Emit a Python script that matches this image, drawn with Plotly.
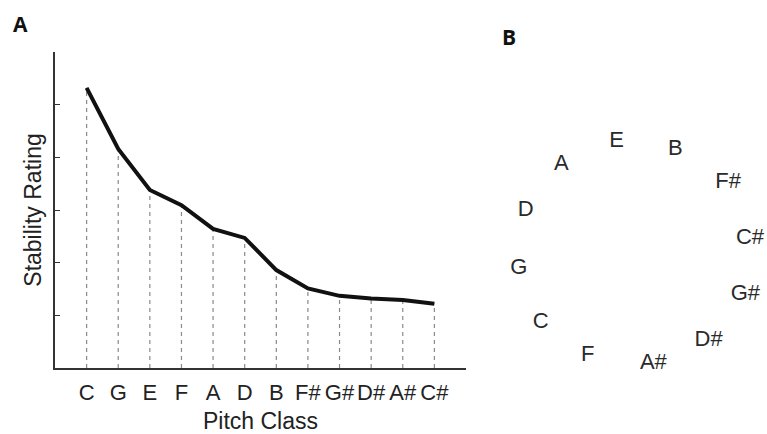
import plotly.graph_objects as go

# Panel A data
pitch_classes = ["C", "G", "E", "F", "A", "D", "B", "F#", "G#", "D#", "A#", "C#"]
stability = [5.32, 4.16, 3.38, 3.09, 2.64, 2.47, 1.86, 1.51, 1.37, 1.32, 1.29, 1.22]
y_ticks = [1, 2, 3, 4, 5, 6]

# Panel B data (2-D configuration)
mds_labels = ["E", "B", "A", "F#", "D", "C#", "G", "G#", "C", "D#", "F", "A#"]
mds_dim1 = [-0.16, 0.35, -0.64, 0.81, -0.95, 1.0, -1.01, 0.96, -0.82, 0.64, -0.41, 0.16]
mds_dim2 = [0.96, 0.89, 0.76, 0.60, 0.36, 0.12, -0.14, -0.37, -0.61, -0.77, -0.90, -0.97]

W, H = 767, 434
ML, MR, MT, MB = 55, 0, 52, 434 - 368
PW = W - ML - MR
PH = H - MT - MB


def px_to_paper(px, py):
    return (px - ML) / PW, 1 - (py - MT) / PH


idx = list(range(len(pitch_classes)))

fig = go.Figure()

# dashed drop lines
dx, dy = [], []
for i, v in zip(idx, stability):
    dx += [i, i, None]
    dy += [0, v, None]
fig.add_trace(go.Scatter(x=dx, y=dy, mode="lines",
                         line=dict(color="#8a8a8a", width=1.2, dash="4px,4px"),
                         hoverinfo="skip", showlegend=False, cliponaxis=False))

fig.add_trace(go.Scatter(x=idx, y=stability, mode="lines",
                         line=dict(color="#111111", width=4),
                         showlegend=False, cliponaxis=False))

fig.add_trace(go.Scatter(x=mds_dim1, y=mds_dim2, mode="text", text=mds_labels,
                         textfont=dict(family="Liberation Sans Narrow, Arial Narrow, Liberation Sans, Arial",
                                       size=22, color="#2a2a2a"),
                         textposition="middle center",
                         xaxis="x2", yaxis="y2", showlegend=False, cliponaxis=False))

ax, ay = px_to_paper(20, 24)
bx, by = px_to_paper(509, 37)
x_end = (466 - ML) / PW
x2_start = (480 - ML) / PW

fig.update_layout(
    width=W, height=H,
    margin=dict(l=ML, r=MR, t=MT, b=MB, autoexpand=False),
    paper_bgcolor="white", plot_bgcolor="white",
    font=dict(family="Liberation Sans, Arial, sans-serif", color="#222222"),
    xaxis=dict(domain=[0, x_end], range=[-1, 12], automargin=False,
               tickmode="array", tickvals=idx, ticktext=pitch_classes, tickangle=0,
               ticklabelstandoff=4,
               tickfont=dict(size=22, color="#222222"), ticks="", showgrid=False,
               zeroline=False, showline=True, linecolor="#333333", linewidth=1.5,
               title=dict(text="Pitch Class", font=dict(size=23, color="#222222"), standoff=10)),
    yaxis=dict(range=[0, 6], tickmode="array", tickvals=y_ticks, showticklabels=False,
               automargin=False,
               ticks="inside", ticklen=5, tickwidth=1.3, tickcolor="#333333",
               showgrid=False, zeroline=False, showline=True, linecolor="#333333", linewidth=1.5,
               title=dict(text="Stability Rating", font=dict(size=23, color="#222222"), standoff=5)),
    xaxis2=dict(domain=[x2_start, 1], range=[-1.348, 1.148], visible=False, anchor="y2"),
    yaxis2=dict(domain=[0, 1], range=[-1.009, 1.739], visible=False, anchor="x2"),
    annotations=[
        dict(text="<b>A</b>", x=ax, y=ay, xref="paper", yref="paper",
             showarrow=False, font=dict(size=21, color="#111111",
                                        family="Open Sans, Liberation Sans, Arial"),
             xanchor="center", yanchor="middle"),
        dict(text="<b>B</b>", x=bx, y=by, xref="paper", yref="paper",
             showarrow=False, font=dict(size=21, color="#111111",
                                        family="Open Sans, Liberation Sans, Arial"),
             xanchor="center", yanchor="middle"),
    ],
)

fig.write_html("out.html",
               config={"displayModeBar": False},
               post_script="document.body.style.margin='0';document.body.style.overflow='hidden';")
